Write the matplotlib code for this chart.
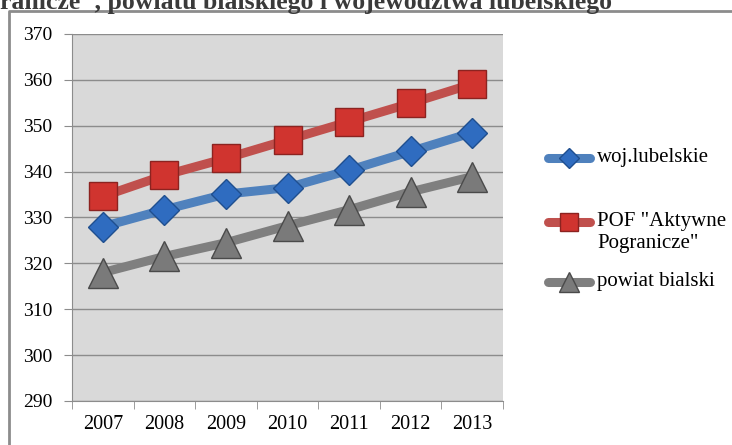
import numpy as np
import matplotlib.pyplot as plt
from matplotlib.lines import Line2D

plt.rcParams['font.family'] = ['Liberation Serif', 'DejaVu Serif']

years = ['2007', '2008', '2009', '2010', '2011', '2012', '2013']
woj_lubelskie = [328.0, 331.7, 335.1, 336.5, 340.3, 344.4, 348.5]
pof_aktywne = [334.6, 339.2, 342.9, 346.9, 350.9, 354.9, 359.1]
powiat_bialski = [318.0, 321.5, 324.5, 328.2, 331.7, 335.6, 338.9]

labels = ['woj.lubelskie', 'POF "Aktywne\nPogranicze"', 'powiat bialski']

fig = plt.figure(figsize=(7.32, 4.45), dpi=100)
ax = fig.add_axes([0.0984, 0.0989, 0.5888, 0.8247])
ax.set_facecolor('#d9d9d9')

x = np.arange(len(years))
series = [
    (woj_lubelskie, '#4f81bd', 'D', '#2f6cc0', '#1f4f8f', 15),
    (pof_aktywne, '#c0504d', 's', '#d0342f', '#8c2320', 20),
    (powiat_bialski, '#7f7f7f', '^', '#7a7a7a', '#4a4a4a', 22),
]
for vals, lc, mk, fc, ec, ms in series:
    ax.plot(x, vals, color=lc, lw=6.5, marker=mk, ms=ms,
            markerfacecolor=fc, markeredgecolor=ec, markeredgewidth=1,
            solid_capstyle='round', zorder=3)

ax.set_xlim(-0.5, len(years) - 0.5)
ax.set_ylim(290, 370)
ax.set_yticks(np.arange(290, 371, 10))
ax.set_xticks(x)
ax.set_xticklabels(years)
ax.set_xticks(np.arange(-0.5, len(years), 1), minor=True)
ax.tick_params(axis='x', which='major', length=0, pad=10, labelsize=14.5)
ax.tick_params(axis='x', which='minor', length=6, color='#8c8c8c', direction='out')
ax.tick_params(axis='y', length=6, color='#8c8c8c', pad=8, labelsize=14)
ax.yaxis.grid(True, color='#8c8c8c', lw=1)
ax.set_axisbelow(True)
for s in ['top', 'right']:
    ax.spines[s].set_visible(False)
for s in ['left', 'bottom']:
    ax.spines[s].set_color('#8c8c8c')

# legend drawn at the right
W, H = 732, 445
leg_y = [158, 222, 282]
for (vals, lc, mk, fc, ec, ms), lab, yy in zip(series, labels, leg_y):
    fy = 1 - yy / H
    fig.add_artist(Line2D([548 / W, 590 / W], [fy, fy], color=lc, lw=6.5,
                          solid_capstyle='round'))
    fig.add_artist(Line2D([569 / W], [fy], marker=mk, ms=ms * 0.65,
                          markerfacecolor=fc, markeredgecolor=ec, lw=0))
    fig.text(597 / W, fy + 10 / H, lab, fontsize=15, va='top', ha='left',
             linespacing=1.2)

# outer frame of the chart
fig.add_artist(Line2D([9 / W, 9 / W, 1], [0, 1 - 11 / H, 1 - 11 / H],
                      color='#8c8c8c', lw=2))

# cut-off title above the chart
fig.text(0.0, 1 - 9 / H, 'ranicze", powiatu bialskiego i województwa lubelskiego',
         fontsize=18.5, fontweight='bold', color='#3a3a3a', va='baseline', ha='left')

fig.savefig('out.png', dpi=100)
